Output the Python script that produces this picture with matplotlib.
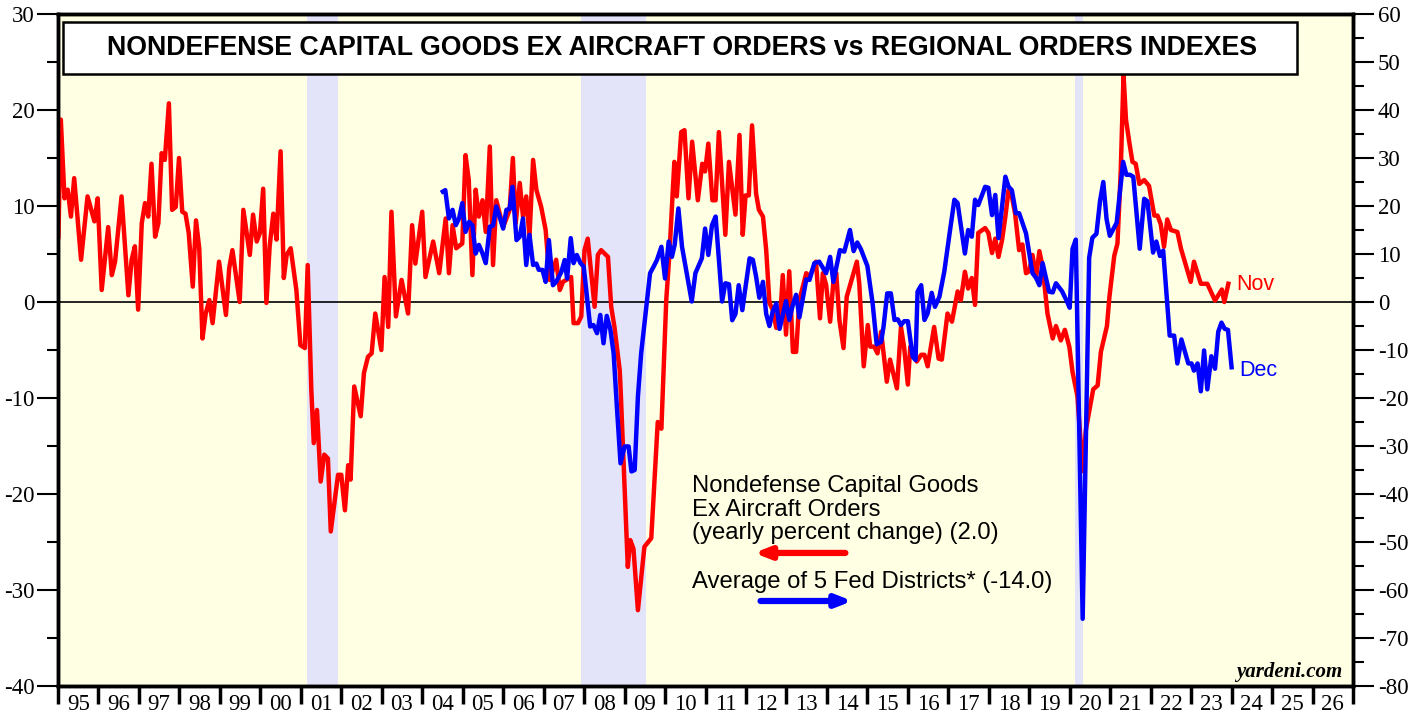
import matplotlib
matplotlib.use("Agg")
import matplotlib.pyplot as plt
from matplotlib.patches import Rectangle
from matplotlib.ticker import MultipleLocator, FixedLocator, NullFormatter, FixedFormatter

plt.rcParams["axes.unicode_minus"] = False

# ---------------- data ----------------
red_dates = [1995.01, 1995.07, 1995.16, 1995.24, 1995.32, 1995.40, 1995.57, 1995.73, 1995.90, 1995.98,
             1996.08, 1996.24, 1996.33, 1996.41, 1996.57, 1996.74, 1996.82, 1996.90, 1996.98,
             1997.07, 1997.15, 1997.23, 1997.31, 1997.40, 1997.48, 1997.56, 1997.64, 1997.74, 1997.82, 1997.91, 1997.99,
             1998.07, 1998.15, 1998.23, 1998.33, 1998.41, 1998.49, 1998.57, 1998.65, 1998.74, 1998.82, 1998.98,
             1999.15, 1999.23, 1999.31, 1999.49, 1999.58, 1999.74, 1999.82, 1999.91, 1999.99,
             2000.07, 2000.15, 2000.23, 2000.32, 2000.40, 2000.50, 2000.58, 2000.65, 2000.75, 2000.89, 2000.99,
             2001.10, 2001.17, 2001.26, 2001.32, 2001.40, 2001.49, 2001.58, 2001.67, 2001.74, 2001.92,
             2002.00, 2002.09, 2002.17, 2002.23, 2002.32, 2002.48, 2002.56, 2002.66, 2002.75, 2002.84, 2002.99,
             2003.07, 2003.16, 2003.24, 2003.35, 2003.49, 2003.65, 2003.75, 2003.83, 2004.00,
             2004.08, 2004.27, 2004.42, 2004.58, 2004.66, 2004.75, 2004.84, 2004.99,
             2005.07, 2005.15, 2005.24, 2005.32, 2005.40, 2005.49, 2005.57, 2005.67, 2005.75, 2005.83, 2006.00,
             2006.16, 2006.24, 2006.31, 2006.41, 2006.49, 2006.57, 2006.65, 2006.74, 2006.82, 2006.94,
             2007.05, 2007.15, 2007.31, 2007.40, 2007.48, 2007.68, 2007.74, 2007.85, 2007.93,
             2008.01, 2008.09, 2008.26, 2008.34, 2008.42, 2008.59, 2008.67, 2008.75, 2008.88, 2008.90,
             2009.08, 2009.14, 2009.22, 2009.33, 2009.49, 2009.66, 2009.82, 2009.91,
             2010.03, 2010.11, 2010.23, 2010.29, 2010.40, 2010.48, 2010.58, 2010.67, 2010.81, 2010.92, 2010.99,
             2011.07, 2011.17, 2011.25, 2011.33, 2011.49, 2011.58, 2011.74, 2011.84, 2011.92, 2011.99,
             2012.07, 2012.15, 2012.25, 2012.32, 2012.42, 2012.50, 2012.58, 2012.66, 2012.75, 2012.83, 2012.91, 2012.99,
             2013.07, 2013.16, 2013.24, 2013.32, 2013.49, 2013.57, 2013.73, 2013.83, 2013.90, 2013.98,
             2014.08, 2014.16, 2014.23, 2014.31, 2014.41, 2014.49, 2014.74, 2014.80, 2014.91,
             2015.01, 2015.07, 2015.17, 2015.25, 2015.34, 2015.48, 2015.56, 2015.73, 2015.83, 2015.91,
             2016.00, 2016.06, 2016.22, 2016.33, 2016.41, 2016.49, 2016.65, 2016.76, 2016.84, 2016.98,
             2017.09, 2017.23, 2017.31, 2017.41, 2017.49, 2017.58, 2017.66, 2017.74, 2017.91, 2017.99,
             2018.08, 2018.16, 2018.24, 2018.33, 2018.41, 2018.49, 2018.57, 2018.65, 2018.75, 2018.83, 2018.92,
             2019.00, 2019.08, 2019.17, 2019.25, 2019.33, 2019.45, 2019.58, 2019.66, 2019.78, 2019.88, 2019.99,
             2020.07, 2020.19, 2020.32, 2020.40, 2020.58, 2020.69, 2020.77, 2020.92, 2020.98,
             2021.10, 2021.18, 2021.26, 2021.33, 2021.39, 2021.47, 2021.55, 2021.63, 2021.72, 2021.84, 2021.96,
             2022.09, 2022.17, 2022.25, 2022.33, 2022.41, 2022.50, 2022.66, 2022.75, 2022.99,
             2023.07, 2023.24, 2023.40, 2023.59, 2023.76, 2023.82, 2023.92]
red_values = [6.8, 19.0, 10.8, 11.7, 8.9, 12.9, 4.4, 11.0, 8.4, 10.8,
              1.25, 7.8, 2.8, 4.2, 11.0, 0.7, 4.4, 5.8, -0.8,
              8.2, 10.3, 8.9, 14.4, 6.8, 8.2, 15.5, 14.8, 20.7, 9.6, 9.9, 15.0,
              9.4, 9.2, 7.2, 1.6, 8.5, 5.6, -3.8, -1.2, 0.2, -2.2, 4.2,
              -1.35, 3.5, 5.4, 0.0, 9.6, 4.9, 9.1, 6.3, 7.2,
              11.8, -0.1, 5.8, 9.2, 6.5, 15.7, 2.5, 4.9, 5.6, 1.25, -4.5,
              -4.8, 3.85, -9.2, -14.7, -11.25, -18.7, -15.9, -16.3, -23.9, -18.0,
              -18.0, -21.7, -17.0, -18.5, -8.8, -11.9, -7.4, -5.7, -5.35, -1.2, -5.0,
              2.6, -2.6, 9.4, -1.5, 2.3, -1.2, 8.0, 4.0, 9.4,
              2.6, 6.3, 3.0, 8.7, 3.0, 8.0, 5.6, 6.1,
              15.3, 12.7, 2.8, 11.7, 8.9, 10.6, 7.3, 16.2, 3.85, 10.6, 7.8,
              9.6, 15.0, 8.2, 12.4, 8.9, 11.0, 6.8, 14.8, 11.7, 9.9,
              7.5, 2.3, 4.4, 1.25, 2.1, 2.6, -2.2, -2.2, -1.5,
              5.4, 6.6, -0.5, 4.9, 5.4, 4.7, -0.5, -2.6, -7.1, -8.8,
              -27.6, -24.8, -25.7, -32.1, -25.5, -24.6, -12.5, -13.2,
              0.2, 5.1, 14.6, 11.0, 17.7, 17.9, 10.8, 16.7, 10.6, 14.4, 13.6,
              16.5, 10.6, 10.6, 17.7, 7.0, 14.6, 9.1, 17.4, 7.0, 11.1,
              11.1, 18.4, 11.3, 9.6, 8.9, 5.4, -0.1, -0.8, -2.7, -2.6, 2.8, -3.4,
              3.2, -5.2, -5.2, 0.2, 3.0, 2.6, 4.2, -1.7, 3.0, 1.8,
              -2.05, 2.1, 3.0, -1.9, -4.8, 0.55, 4.2, 1.9, -6.7,
              -2.4, -4.65, -4.65, -5.35, -3.1, -8.3, -6.0, -9.0, -2.6, -4.8,
              -8.6, -4.65, -6.2, -5.5, -5.5, -6.7, -2.6, -5.9, -6.0, -1.2,
              -2.05, 1.1, 0.2, 3.15, 1.4, 2.5, -0.3, 7.2, 7.7, 7.2,
              5.1, 6.6, 4.7, 6.5, 8.9, 11.7, 11.0, 9.2, 5.4, 6.0, 3.0,
              3.2, 4.9, 2.6, 5.3, 3.7, -1.2, -3.8, -2.5, -4.0, -2.9, -4.65,
              -7.3, -9.8, -17.6, -13.3, -9.1, -8.7, -5.2, -2.5, 0.5,
              4.8, 6.1, 13.6, 23.7, 19.0, 16.7, 14.6, 14.4, 12.3, 12.7, 12.1,
              9.0, 9.0, 8.1, 5.75, 8.6, 7.5, 7.3, 5.55, 2.1,
              4.2, 1.9, 1.9, 0.15, 1.3, 0.0, 1.9]

blue_dates = [2004.51, 2004.57, 2004.66, 2004.75, 2004.83, 2004.91, 2004.99,
              2005.07, 2005.16, 2005.24, 2005.32, 2005.40, 2005.49, 2005.57, 2005.67, 2005.75, 2005.83, 2005.91,
              2006.00, 2006.08, 2006.16, 2006.23, 2006.33, 2006.41, 2006.49, 2006.57, 2006.65, 2006.74, 2006.82, 2006.88, 2006.97,
              2007.05, 2007.13, 2007.23, 2007.31, 2007.44, 2007.52, 2007.58, 2007.67, 2007.74, 2007.82, 2007.91, 2007.99,
              2008.07, 2008.15, 2008.23, 2008.32, 2008.40, 2008.48, 2008.56, 2008.65, 2008.73, 2008.81, 2008.90,
              2009.00, 2009.10, 2009.17, 2009.25, 2009.33, 2009.41, 2009.52, 2009.63, 2009.72, 2009.80, 2009.91,
              2010.00, 2010.09, 2010.17, 2010.24, 2010.33, 2010.42, 2010.66, 2010.75, 2010.91, 2010.99,
              2011.07, 2011.16, 2011.25, 2011.41, 2011.49, 2011.58, 2011.66, 2011.74, 2011.82, 2011.91, 2011.99,
              2012.09, 2012.17, 2012.25, 2012.33, 2012.42, 2012.50, 2012.58, 2012.66, 2012.75, 2012.83, 2012.99,
              2013.07, 2013.16, 2013.24, 2013.32, 2013.49, 2013.57, 2013.69, 2013.81, 2013.98,
              2014.08, 2014.16, 2014.32, 2014.43, 2014.57, 2014.66, 2014.75, 2014.84,
              2015.00, 2015.13, 2015.23, 2015.34, 2015.40, 2015.49, 2015.58, 2015.67, 2015.75, 2015.83, 2015.91,
              2016.00, 2016.12, 2016.19, 2016.24, 2016.33, 2016.41, 2016.49, 2016.59, 2016.67, 2016.78, 2016.90,
              2017.02, 2017.15, 2017.23, 2017.41, 2017.49, 2017.58, 2017.66, 2017.74, 2017.91, 2017.99,
              2018.08, 2018.16, 2018.24, 2018.41, 2018.49, 2018.57, 2018.67, 2018.75, 2018.92,
              2019.08, 2019.17, 2019.25, 2019.33, 2019.49, 2019.58, 2019.66, 2019.81, 2019.91, 2020.00,
              2020.07, 2020.15, 2020.32, 2020.48, 2020.56, 2020.66, 2020.75, 2020.83, 2020.91, 2020.99,
              2021.16, 2021.32, 2021.40, 2021.49, 2021.57, 2021.73, 2021.84, 2021.92,
              2022.06, 2022.14, 2022.23, 2022.31, 2022.47, 2022.58, 2022.66, 2022.76, 2022.93,
              2023.01, 2023.07, 2023.16, 2023.24, 2023.32, 2023.40, 2023.50, 2023.59, 2023.67, 2023.75, 2023.83, 2023.91, 2024.00]
blue_values = [23.0, 23.3, 17.4, 19.2, 16.0, 17.4, 20.6,
               14.6, 16.7, 16.0, 10.1, 11.9, 10.1, 8.1, 15.7, 15.9, 19.9, 17.8,
               15.3, 19.2, 19.4, 24.0, 12.9, 13.6, 17.4, 7.7, 14.0, 7.7, 8.0, 6.7, 6.7,
               4.2, 12.9, 3.5, 4.2, 6.3, 8.75, 4.9, 13.3, 8.1, 9.8, 8.1, 7.4,
               1.1, -5.1, -4.8, -6.5, -2.7, -8.6, -2.9, -5.8, -10.7, -21.8, -33.6,
               -30.1, -30.1, -35.3, -35.0, -19.7, -10.7, -2.35, 6.0, 7.4, 8.75, 11.5,
               4.9, 12.6, 9.4, 12.0, 19.5, 11.5, 0.1, 6.0, 9.1, 15.3,
               9.8, 16.0, 17.8, 0.1, 3.9, 3.7, -3.8, -2.5, 3.5, -1.7, 3.2,
               9.1, 8.8, 5.3, 0.9, 4.2, -2.5, -5.0, -2.0, -0.3, -5.6, 0.2,
               -3.75, -0.5, 1.5, -3.2, 4.7, 4.6, 8.1, 8.4, 6.0,
               9.4, 4.2, 10.8, 10.5, 15.0, 10.6, 12.4, 11.0,
               7.5, -0.3, -8.8, -8.3, -5.1, 1.8, 1.8, -3.75, -3.6, -4.8, -4.0,
               -4.0, -11.4, -12.1, 2.15, 3.5, -3.75, -2.35, 1.9, -1.0, 1.1, 6.3,
               13.6, 21.3, 20.6, 10.1, 15.0, 13.6, 21.3, 20.2, 24.0, 23.8,
               18.1, 22.3, 13.3, 26.1, 24.0, 23.3, 18.5, 18.5, 14.3,
               6.0, 5.0, 3.5, 8.1, 2.15, 2.0, 3.9, 2.25, 0.5, -1.2,
               11.1, 13.0, -66.0, 9.2, 13.4, 14.2, 21.1, 25.0, 17.3, 13.8,
               16.5, 29.2, 26.5, 26.5, 26.1, 11.1, 21.5, 21.0,
               10.3, 12.6, 9.6, 10.7, -7.0, -7.0, -12.8, -7.8, -12.8,
               -12.8, -14.3, -12.8, -18.6, -10.1, -18.2, -11.3, -13.9, -6.2, -4.3, -5.6, -5.8, -13.6]

recession_starts = [2001.15, 2007.92, 2020.14]
recession_ends = [2001.91, 2009.52, 2020.33]

year_ticks = list(range(1995, 2028))
year_labels = [f"{y % 100:02d}" for y in range(1995, 2027)]

title = "NONDEFENSE CAPITAL GOODS EX AIRCRAFT ORDERS vs REGIONAL ORDERS INDEXES"
legend_red = "Nondefense Capital Goods\nEx Aircraft Orders\n(yearly percent change) (2.0)"
legend_blue = "Average of 5 Fed Districts* (-14.0)"

RED = "#FF0000"
BLUE = "#0000FF"
BG = "#FFFFE3"
REC = "#E3E3FA"

# ---------------- figure ----------------
fig = plt.figure(figsize=(14.19, 7.17), dpi=100)
ax = fig.add_axes([58 / 1419, 31 / 717, 1295 / 1419, 672 / 717])
ax.set_facecolor(BG)
ax2 = ax.twinx()

ax.set_xlim(1995, 2027)
ax.set_ylim(-40, 30)
ax2.set_ylim(-80, 60)

for s, e in zip(recession_starts, recession_ends):
    ax.axvspan(s, e, color=REC, lw=0, zorder=0)

ax.axhline(0, color="black", lw=1.2, zorder=1)
ax.plot(red_dates, red_values, color=RED, lw=3.2, solid_joinstyle="round", zorder=3)
ax2.plot(blue_dates, blue_values, color=BLUE, lw=3.2, solid_joinstyle="round", zorder=3)

serif = "Liberation Serif"
sans = "Liberation Sans"

# left axis
ax.yaxis.set_major_locator(MultipleLocator(10))
ax.yaxis.set_minor_locator(MultipleLocator(5))
ax.tick_params(axis="y", which="major", direction="out", length=15, width=1.5, pad=2)
ax.tick_params(axis="y", which="minor", direction="out", length=8, width=1.5)
for lab in ax.get_yticklabels():
    lab.set_fontfamily(serif)
    lab.set_fontsize(16.5)

# right axis
ax2.yaxis.set_major_locator(MultipleLocator(10))
ax2.yaxis.set_minor_locator(MultipleLocator(5))
ax2.tick_params(axis="y", which="major", direction="out", length=15, width=1.5, pad=3)
ax2.tick_params(axis="y", which="minor", direction="out", length=8, width=1.5)
for lab in ax2.get_yticklabels():
    lab.set_fontfamily(serif)
    lab.set_fontsize(16.5)

# x axis: ticks at year boundaries, labels centred in year
ax.xaxis.set_major_locator(FixedLocator(year_ticks))
ax.xaxis.set_major_formatter(NullFormatter())
ax.xaxis.set_minor_locator(FixedLocator([y + 0.5 for y in range(1995, 2027)]))
ax.xaxis.set_minor_formatter(FixedFormatter(year_labels))
ax.tick_params(axis="x", which="major", direction="out", length=13, width=2.5)
ax.tick_params(axis="x", which="minor", length=0, pad=6)
for lab in ax.get_xticklabels(minor=True):
    lab.set_fontfamily(serif)
    lab.set_fontsize(16.5)

for a in (ax, ax2):
    for sp in a.spines.values():
        sp.set_linewidth(2.5)
        sp.set_color("black")

# title box
ax2.add_patch(Rectangle((5 / 1295, (686 - 74) / 672), (1297 - 63) / 1295, 52 / 672,
                        transform=ax.transAxes, facecolor="white", edgecolor="black",
                        lw=1.8, zorder=10, clip_on=False))
ax2.text(0.4815, (686 - 48) / 672, title, transform=ax.transAxes, ha="center", va="center",
         fontsize=19.3, fontweight="bold", family=sans, zorder=11)

# legend text + arrows
ax2.text(0.4893, 0.314, legend_red, transform=ax.transAxes, ha="left", va="top",
         fontsize=17.2, family=sans, linespacing=1.1, zorder=11)
ax2.text(0.4893, 0.155, legend_blue, transform=ax.transAxes, ha="left", va="center",
         fontsize=17.2, family=sans, zorder=11)
ax2.annotate("", xy=(0.5375, 0.198), xytext=(0.608, 0.198), xycoords=ax.transAxes,
             textcoords=ax.transAxes,
             arrowprops=dict(arrowstyle="-|>,head_length=0.9,head_width=0.35", color=RED, lw=4.5,
                             shrinkA=0, shrinkB=0), zorder=11)
ax2.annotate("", xy=(0.6135, 0.1265), xytext=(0.5425, 0.1265), xycoords=ax.transAxes,
             textcoords=ax.transAxes,
             arrowprops=dict(arrowstyle="-|>,head_length=0.9,head_width=0.35", color=BLUE, lw=4.5,
                             shrinkA=0, shrinkB=0), zorder=11)

# end labels
ax2.text(0.9097, 0.598, "Nov", transform=ax.transAxes, ha="left", va="center",
         fontsize=15.5, color=RED, family=sans, zorder=11)
ax2.text(0.9120, 0.470, "Dec", transform=ax.transAxes, ha="left", va="center",
         fontsize=15.5, color=BLUE, family=sans, zorder=11)

ax2.text(0.9915, 0.021, "yardeni.com", transform=ax.transAxes, ha="right", va="center",
         fontsize=15, fontweight="bold", fontstyle="italic", family=serif, zorder=11)

fig.savefig("out.png", dpi=100, facecolor="white")
